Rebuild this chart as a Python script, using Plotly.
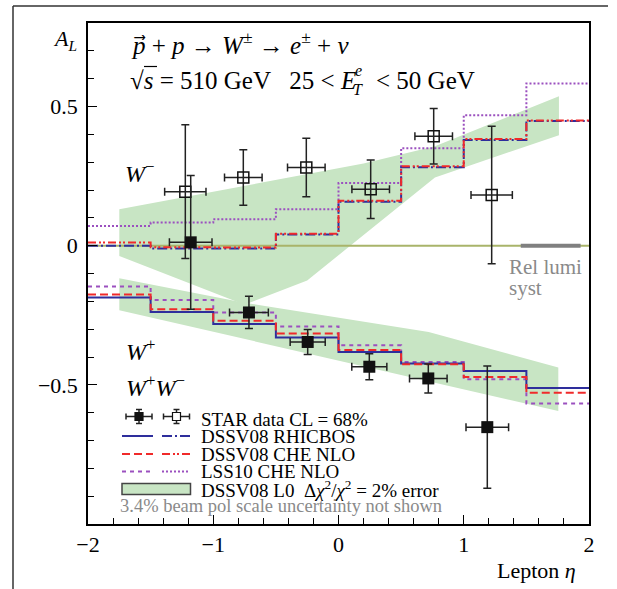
import plotly.graph_objects as go

# ---------------- data ----------------
# bin edges of the theory histograms (lepton pseudorapidity)
eta_edges = [-2.0, -1.5, -1.0, -0.5, 0.0, 0.5, 1.0, 1.5, 2.0]

# W- predictions per bin
dssv_rhicbos_wm = [0.000, -0.010, -0.010, 0.040, 0.158, 0.282, 0.380, 0.448]
dssv_che_wm = [0.011, -0.006, -0.007, 0.043, 0.161, 0.285, 0.383, 0.450]
lss_che_wm = [0.071, 0.083, 0.095, 0.131, 0.225, 0.350, 0.469, 0.583]

# W+ predictions per bin
dssv_rhicbos_wp = [-0.186, -0.238, -0.281, -0.330, -0.382, -0.423, -0.450, -0.511]
dssv_che_wp = [-0.175, -0.228, -0.270, -0.316, -0.375, -0.426, -0.472, -0.528]
lss_che_wp = [-0.147, -0.195, -0.240, -0.290, -0.358, -0.418, -0.480, -0.567]

# DSSV08 LO error bands (polygon outlines)
band_wm_eta = [-1.75, 0.20, 0.77, 1.76, 1.76, 0.77, -0.25, -0.75, -1.75]
band_wm_al = [0.131, 0.295, 0.357, 0.537, 0.397, 0.245, -0.125, -0.212, -0.037]
band_wp_eta = [-1.75, -0.75, 0.72, 1.755, 1.755, -1.75]
band_wp_al = [-0.117, -0.205, -0.310, -0.438, -0.594, -0.232]

# STAR data, W+ (filled) and W- (open)
wp_eta = [-1.18, -0.715, -0.246, 0.246, 0.717, 1.188]
wp_al = [0.012, -0.240, -0.346, -0.435, -0.477, -0.652]
wp_err = [0.240, 0.058, 0.045, 0.047, 0.052, 0.220]
wp_eta_err = [0.17, 0.155, 0.14, 0.14, 0.15, 0.17]

wm_eta = [-1.223, -0.76, -0.257, 0.257, 0.76, 1.223]
wm_al = [0.194, 0.245, 0.281, 0.203, 0.393, 0.182]
wm_err = [0.240, 0.100, 0.105, 0.105, 0.100, 0.247]
wm_eta_err = [0.165, 0.15, 0.15, 0.15, 0.15, 0.165]

# relative luminosity systematic marker
lumi_eta = [1.455, 1.933]
lumi_al = [0.0, 0.0]

x_ticks = [-2, -1, 0, 1, 2]
x_labels = ["\u22122", "\u22121", "0", "1", "2"]
y_ticks = [-0.5, 0.0, 0.5]
y_labels = ["\u22120.5", "0", "0.5"]

# ---------------- styling ----------------
FONT = "Liberation Serif"
BLUE = "#2e2e9c"
RED = "#f02a2a"
PURPLE = "#9b50bf"
GREEN = "rgb(200,229,196)"
OLIVE = "#a9b46a"
GREY = "#8a8a8a"

W, H = 617, 589
L, R, T, B = 88, 589, 23, 524


def px(x):
    return (x - L) / (R - L)


def py(y):
    return (B - y) / (B - T)


def steps(vals):
    return vals + [vals[-1]]


fig = go.Figure()

# error bands
for ex, ey in [(band_wm_eta, band_wm_al), (band_wp_eta, band_wp_al)]:
    fig.add_trace(go.Scatter(x=ex, y=ey, fill="toself", fillcolor=GREEN,
                             mode="lines", line=dict(width=0), hoverinfo="skip"))

# zero line
fig.add_trace(go.Scatter(x=[-2, 2], y=[0, 0], mode="lines",
                         line=dict(color=OLIVE, width=2)))

# relative luminosity bar
fig.add_trace(go.Scatter(x=lumi_eta, y=lumi_al, mode="lines",
                         line=dict(color="#808080", width=4)))

curves = [
    (lss_che_wm, PURPLE, "2px,2px"),
    (dssv_rhicbos_wm, BLUE, "10px,3px,2px,3px"),
    (dssv_che_wm, RED, "8px,3px,2px,2px,2px,3px"),
    (lss_che_wp, PURPLE, "4px,4px"),
    (dssv_rhicbos_wp, BLUE, "solid"),
    (dssv_che_wp, RED, "8px,4px"),
]
for vals, col, dash in curves:
    fig.add_trace(go.Scatter(x=eta_edges, y=steps(vals), mode="lines",
                             line=dict(color=col, width=2, dash=dash, shape="hv")))

# data points
err_style = dict(type="data", width=4, thickness=1.5, color="#222")
fig.add_trace(go.Scatter(
    x=wm_eta, y=wm_al, mode="markers",
    marker=dict(symbol="square-open", size=11, color="#111", line=dict(width=1.5)),
    error_y=dict(array=wm_err, **err_style),
    error_x=dict(array=wm_eta_err, **err_style)))
fig.add_trace(go.Scatter(
    x=wp_eta, y=wp_al, mode="markers",
    marker=dict(symbol="square", size=12, color="#111"),
    error_y=dict(array=wp_err, **err_style),
    error_x=dict(array=wp_eta_err, **err_style)))

shapes = []
annotations = []


def text(x, y, s, size=22, color="black", xanchor="left"):
    annotations.append(dict(x=px(x), y=py(y), xref="paper", yref="paper", text=s,
                            showarrow=False, xanchor=xanchor, yanchor="middle",
                            borderpad=0, font=dict(family=FONT, size=size, color=color)))


def pline(x0, y0, x1, y1, color="black", width=1.5, dash="solid"):
    shapes.append(dict(type="line", xref="paper", yref="paper",
                       x0=px(x0), y0=py(y0), x1=px(x1), y1=py(y1),
                       line=dict(color=color, width=width, dash=dash)))


# outer frame (top and left)
pline(13, 6, 608, 6, color="#333", width=1.5)
pline(13, 6, 13, 589, color="#333", width=1.5)

# labels
text(65, 40, "<i>A</i><sub><i>L</i></sub>", xanchor="center")
text(130, 43, "<i>p</i>\u20d7 + <i>p</i> \u2192 <i>W</i><sup>\u00b1</sup> \u2192 "
              "<i>e</i><sup>\u00b1</sup> + <i>\u03bd</i>", size=25)
# kinematic cuts: E_T^e written with stacked indices
text(357, 80, "\u221a<i>s</i> = 510 GeV   25 < <i>E</i>", size=25, xanchor="right")
text(358, 70, "<i>e</i>", size=16, xanchor="center")
text(358, 89, "<i>T</i>", size=16, xanchor="center")
text(375, 80, "< 50 GeV", size=25)
pline(144, 66.5, 157, 66.5, width=1.2)  # radical bar over s
text(124, 172, "<i>W</i><sup>\u2212</sup>", size=24)
text(125, 350, "<i>W</i><sup>+</sup>", size=24)
text(125, 386, "<i>W</i><sup>+</sup><i>W</i><sup>\u2212</sup>", size=24)
text(508, 267, "Rel lumi", size=21, color=GREY)
text(508, 288, "syst", size=21, color=GREY)
text(577, 570, "Lepton <i>\u03b7</i>", xanchor="right")

# legend
rows = [419, 436, 454, 471.5, 489]
legend_text = [
    "STAR data CL = 68%",
    "DSSV08 RHICBOS",
    "DSSV08 CHE NLO",
    "LSS10 CHE NLO",
    "DSSV08 L0  \u0394<i>\u03c7</i><sup>2</sup>/<i>\u03c7</i><sup>2</sup> = 2% error",
]
for y, s in zip(rows, legend_text):
    text(200, y, s, size=19)
text(119, 506, "3.4% beam pol scale uncertainty not shown", size=18.5, color=GREY)

# legend samples: data symbols
for cx, filled in [(139, True), (176.5, False)]:
    cy = 416.5
    pline(cx - 13, cy, cx + 13, cy, color="#222")
    pline(cx - 13, cy - 3, cx - 13, cy + 3, color="#222")
    pline(cx + 13, cy - 3, cx + 13, cy + 3, color="#222")
    pline(cx, cy - 7, cx, cy + 7, color="#222")
    pline(cx - 3, cy - 7, cx + 3, cy - 7, color="#222")
    pline(cx - 3, cy + 7, cx + 3, cy + 7, color="#222")
    shapes.append(dict(type="rect", xref="paper", yref="paper",
                       x0=px(cx - 4), x1=px(cx + 4), y0=py(cy - 4), y1=py(cy + 4),
                       fillcolor="#111" if filled else "white",
                       line=dict(color="#111", width=1.2)))

# legend samples: line styles
line_rows = [
    (rows[1], BLUE, "solid", "10px,3px,2px,3px"),
    (rows[2], RED, "8px,4px", "8px,3px,2px,2px,2px,3px"),
    (rows[3], PURPLE, "4px,4px", "2px,2px"),
]
for y, col, d1, d2 in line_rows:
    pline(122, y, 153, y, color=col, width=2, dash=d1)
    pline(162, y, 190, y, color=col, width=2, dash=d2)
shapes.append(dict(type="rect", xref="paper", yref="paper",
                   x0=px(122), x1=px(190.5), y0=py(483.5), y1=py(494.5),
                   fillcolor=GREEN, line=dict(color="#444", width=1.5)))

axis_common = dict(showgrid=False, zeroline=False, showline=True, mirror=True,
                   linecolor="black", linewidth=1.5, ticks="inside", tickcolor="black",
                   tickwidth=1.3, ticklen=9,
                   tickfont=dict(family=FONT, size=22, color="black"))

fig.update_layout(
    width=W, height=H,
    margin=dict(l=L, r=W - R, t=T, b=H - B),
    paper_bgcolor="white", plot_bgcolor="white",
    showlegend=False,
    shapes=shapes, annotations=annotations,
    xaxis=dict(range=[-2, 2], tickmode="array", tickvals=x_ticks, ticktext=x_labels,
               minor=dict(tickmode="linear", tick0=0, dtick=0.2, ticks="inside",
                          ticklen=6, tickcolor="black", tickwidth=1.2),
               ticklabelstandoff=0, **axis_common),
    yaxis=dict(range=[-1.0, 0.8], tickmode="array", tickvals=y_ticks, ticktext=y_labels,
               minor=dict(tickmode="linear", tick0=0, dtick=0.1, ticks="inside",
                          ticklen=6, tickcolor="black", tickwidth=1.2),
               ticklabelstandoff=4, **axis_common),
)

fig.write_html("out.html")
